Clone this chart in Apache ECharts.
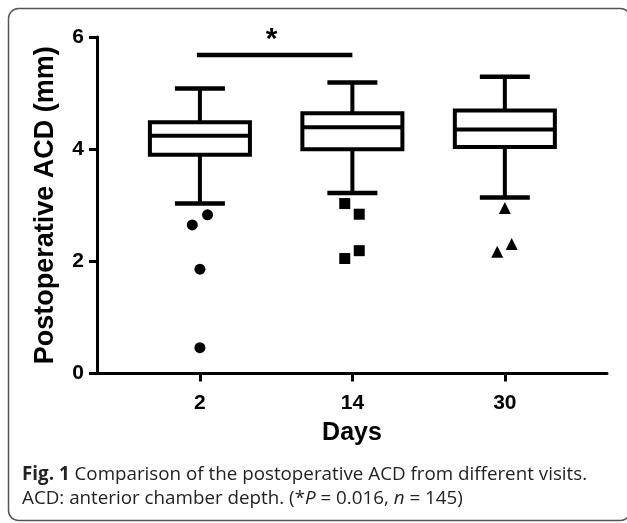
<!DOCTYPE html>
<html>
<head>
<meta charset="utf-8">
<script src="https://cdn.jsdelivr.net/npm/echarts@6/dist/echarts.min.js"></script>
<style>
html, body { margin: 0; padding: 0; background: #fff; }
#main { width: 627px; height: 523px; }
</style>
</head>
<body>
<div id="main"></div>
<script>
// Days after surgery
var days = ['2', '14', '30'];
var yTicks = [0, 2, 4, 6];

// box statistics per visit
var boxMin = [3.03, 3.22, 3.14];
var boxQ1 = [3.90, 4.00, 4.04];
var boxMedian = [4.24, 4.39, 4.35];
var boxQ3 = [4.48, 4.64, 4.69];
var boxMax = [5.08, 5.19, 5.29];

// outliers: [visit index, horizontal jitter, ACD]
var outDay2 = [[0, 0.05, 2.83], [0, -0.05, 2.65], [0, 0, 1.86], [0, 0, 0.46]];
var outDay14 = [[1, -0.05, 3.03], [1, 0.045, 2.84], [1, 0.045, 2.19], [1, -0.05, 2.05]];
var outDay30 = [[2, 0, 2.95], [2, 0.045, 2.31], [2, -0.05, 2.17]];

// significance bracket: from visit, to visit, height
var sigBar = [[-0.02, 1.0, 5.68]];
var sigStar = [[0.47, 5.95, '*']];

var boxData = days.map(function (d, i) {
	return [i, boxMin[i], boxQ1[i], boxMedian[i], boxQ3[i], boxMax[i]];
});
function toPoints(arr) {
	return arr.map(function (o) { return [o[0] + o[1], o[2]]; });
}

var chart = echarts.init(document.getElementById('main'));

function seg(a, b, w) {
	return {
		type: 'line',
		shape: { x1: a[0], y1: a[1], x2: b[0], y2: b[1] },
		style: { stroke: '#000', lineWidth: w || 4 }
	};
}

function renderBox(params, api) {
	var x = api.value(0);
	var lo = api.value(1), q1 = api.value(2), med = api.value(3), q3 = api.value(4), hi = api.value(5);
	var bw = 0.328, cw = 0.164;
	var tl = api.coord([x - bw, q3]);
	var br = api.coord([x + bw, q1]);
	return {
		type: 'group',
		children: [
			{
				type: 'rect',
				shape: { x: tl[0], y: tl[1], width: br[0] - tl[0], height: br[1] - tl[1] },
				style: { stroke: '#000', lineWidth: 4, fill: 'none' }
			},
			seg(api.coord([x - bw, med]), api.coord([x + bw, med])),
			seg(api.coord([x, q3]), api.coord([x, hi])),
			seg(api.coord([x - cw, hi]), api.coord([x + cw, hi]), 4.5),
			seg(api.coord([x, q1]), api.coord([x, lo])),
			seg(api.coord([x - cw, lo]), api.coord([x + cw, lo]), 4.5)
		]
	};
}

function renderBar(params, api) {
	return seg(api.coord([api.value(0), api.value(2)]), api.coord([api.value(1), api.value(2)]), 4.5);
}

function renderStar(params, api) {
	var p = api.coord([api.value(0), api.value(1)]);
	return {
		type: 'text',
		x: p[0], y: p[1],
		style: {
			text: '*', fill: '#000',
			font: 'bold 30px "Liberation Sans", Arial, sans-serif',
			align: 'center', verticalAlign: 'middle'
		}
	};
}

var axisFont = '"Liberation Sans", Arial, sans-serif';

chart.setOption({
	animation: false,
	backgroundColor: '#fff',
	grid: { left: 97, right: 20, top: 37, bottom: 149.5 },
	xAxis: {
		type: 'value',
		min: -0.675,
		max: 2.67,
		name: 'Days',
		nameLocation: 'middle',
		nameGap: 47,
		nameTextStyle: { fontFamily: axisFont, fontWeight: 'bold', fontSize: 25, color: '#000' },
		splitLine: { show: false },
		axisLine: { show: true, onZero: false, lineStyle: { color: '#000', width: 3 } },
		axisTick: { show: true, customValues: [0, 1, 2], length: 8, lineStyle: { color: '#000', width: 3 } },
		axisLabel: {
			customValues: [0, 1, 2],
			formatter: function (v) { return days[Math.round(v)]; },
			margin: 19,
			fontFamily: axisFont, fontWeight: 'bold', fontSize: 21, color: '#000'
		}
	},
	yAxis: {
		type: 'value',
		min: 0,
		max: 6,
		interval: 2,
		name: 'Postoperative ACD (mm)',
		nameLocation: 'middle',
		nameRotate: 90,
		nameGap: 38,
		nameTextStyle: { fontFamily: axisFont, fontWeight: 'bold', fontSize: 27, color: '#000' },
		splitLine: { show: false },
		axisLine: { show: true, onZero: false, lineStyle: { color: '#000', width: 3 } },
		axisTick: { show: true, length: 8, lineStyle: { color: '#000', width: 3 } },
		axisLabel: {
			margin: 13,
			formatter: function (v) { return yTicks.indexOf(v) >= 0 ? String(v) : ''; },
			fontFamily: axisFont, fontWeight: 'bold', fontSize: 21, color: '#000'
		}
	},
	series: [
		{ type: 'custom', name: 'box', renderItem: renderBox, data: boxData, clip: false, z: 3 },
		{ type: 'scatter', name: 'Day 2', data: toPoints(outDay2), symbol: 'circle', symbolSize: 11, itemStyle: { color: '#000', opacity: 1 } },
		{ type: 'scatter', name: 'Day 14', data: toPoints(outDay14), symbol: 'rect', symbolSize: 11, itemStyle: { color: '#000', opacity: 1 } },
		{ type: 'scatter', name: 'Day 30', data: toPoints(outDay30), symbol: 'triangle', symbolSize: 12, itemStyle: { color: '#000', opacity: 1 } },
		{ type: 'custom', name: 'sig', renderItem: renderBar, data: sigBar, clip: false },
		{ type: 'custom', name: 'star', renderItem: renderStar, data: sigStar, clip: false }
	],
	graphic: [
		{
			type: 'rect',
			shape: { x: 8.5, y: 8.5, width: 622, height: 512, r: 10 },
			style: { stroke: '#555', lineWidth: 1.5, fill: 'none' },
			silent: true
		},
		{
			type: 'text',
			left: 22, top: 465,
			style: {
				text: '{b|Fig. 1} Comparison of the postoperative ACD from different visits.',
				font: '18.8px "Open Sans", sans-serif',
				fill: '#222',
				rich: { b: { fontWeight: 'bold', fontSize: 18.8, fontFamily: 'Open Sans', fill: '#222' } }
			}
		},
		{
			type: 'text',
			left: 22, top: 489,
			style: {
				text: 'ACD: anterior chamber depth. (*{i|P} = 0.016, {i|n} = 145)',
				font: '18.8px "Open Sans", sans-serif',
				fill: '#222',
				rich: { i: { fontStyle: 'italic', fontSize: 18.8, fontFamily: 'Open Sans', fill: '#222' } }
			}
		}
	]
});
</script>
</body>
</html>
